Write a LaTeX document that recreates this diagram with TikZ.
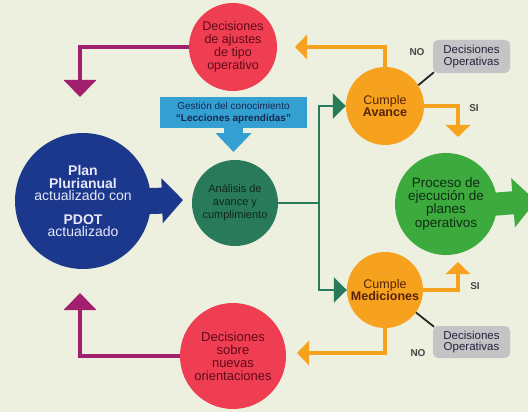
\documentclass[tikz,border=0pt]{standalone}
\usepackage{fontspec}
\setmainfont{Liberation Sans}
\usetikzlibrary{arrows.meta}
\definecolor{bgc}{RGB}{237,240,222}
\definecolor{redfill}{RGB}{239,62,82}
\definecolor{redtxt}{RGB}{95,10,25}
\definecolor{magc}{RGB}{160,32,110}
\definecolor{orgc}{RGB}{247,162,30}
\definecolor{orgtxt}{RGB}{85,35,10}
\definecolor{planblue}{RGB}{28,56,140}
\definecolor{plantext}{RGB}{232,232,250}
\definecolor{lblue}{RGB}{52,160,210}
\definecolor{gesttxt}{RGB}{20,40,80}
\definecolor{dgreen}{RGB}{40,122,90}
\definecolor{anatxt}{RGB}{15,40,30}
\definecolor{pgreen}{RGB}{60,170,60}
\definecolor{proctxt}{RGB}{15,45,20}
\definecolor{grayfill}{RGB}{196,196,198}
\definecolor{graytxt}{RGB}{35,35,60}
\definecolor{lbltxt}{RGB}{70,70,70}
\tikzset{
  circ/.style={circle, inner sep=0pt, align=center},
  redcirc/.style={circ, fill=redfill, text=redtxt, font=\fontsize{12.5}{13}\selectfont},
  orgcirc/.style={circ, fill=orgc, text=orgtxt, font=\fontsize{12.5}{12.5}\selectfont},
  graybox/.style={rectangle, rounded corners=5pt, fill=grayfill, text=graytxt, align=center,
    minimum width=77pt, minimum height=33pt, inner sep=1pt, font=\fontsize{11.5}{11.5}\selectfont},
  lbl/.style={font=\fontsize{10}{10}\selectfont\bfseries, text=lbltxt, inner sep=0pt},
  magarrow/.style={draw=magc, line width=4pt, -{Triangle[width=32pt,length=17pt]}},
  orgarrow/.style={draw=orgc, line width=4pt, -{Triangle[width=24pt,length=12pt]}},
  grnline/.style={draw=dgreen, line width=2.5pt},
  grnarrow/.style={grnline, -{Triangle[width=25pt,length=13pt]}},
  blink/.style={draw=black!85, line width=1.8pt}
}
\begin{document}
\begin{tikzpicture}[x=1pt,y=-1pt]
\useasboundingbox (0,0) rectangle (528,412);
\fill[bgc] (0,0) rectangle (528,412);
\clip (0,0) rectangle (528,412);

% nodes
\node[redcirc, minimum size=88pt] (rtop) at (233,47) {Decisiones\\de ajustes\\de tipo\\operativo};
\node[redcirc, minimum size=106pt, font=\fontsize{13}{13}\selectfont] (rbot) at (233,356) {Decisiones\\sobre\\nuevas\\orientaciones};
\node[circ, fill=planblue, text=plantext, minimum size=136pt, font=\fontsize{14}{12.5}\selectfont] (plan) at (83,201)
  {\textbf{Plan}\\\textbf{Plurianual}\\actualizado con\\[11pt]\textbf{PDOT}\\actualizado};
\node[circ, fill=dgreen, text=anatxt, minimum size=86pt, font=\fontsize{11}{13}\selectfont] (ana) at (235,203)
  {Análisis de\\avance y\\cumplimiento};
\node[orgcirc, minimum size=78pt] (cumA) at (385,106) {Cumple\\\textbf{Avance}};
\node[orgcirc, minimum size=76pt, font=\fontsize{12.5}{11}\selectfont] (cumM) at (385,290) {Cumple\\\textbf{Mediciones}};
\node[circ, fill=pgreen, text=proctxt, minimum size=102pt, font=\fontsize{13.5}{12.5}\selectfont] (proc) at (446,204)
  {Proceso de\\ejecución de\\planes\\operativos};
\node[graybox] (boxA) at (471.5,56.5) {Decisiones\\Operativas};
\node[graybox, minimum height=32pt] (boxM) at (471.5,342) {Decisiones\\Operativas};
\node[rectangle, fill=lblue, text=gesttxt, minimum width=147pt, minimum height=31pt, inner sep=1pt,
  align=center, font=\fontsize{10}{12}\selectfont] (gest) at (233.5,112.5)
  {Gestión del conocimiento\\\textbf{“Lecciones aprendidas”}};
\node[lbl] (noA) at (417,52) {NO};
\node[lbl] (siA) at (474,108) {SI};
\node[lbl] (siM) at (475,286) {SI};
\node[lbl] (noM) at (418,353) {NO};

% thick block arrows
\coordinate (ptip) at (183,200);
\draw[draw=planblue, line width=26pt, shorten <=-5pt, -{Triangle[width=44pt,length=21pt]}] (plan.east) -- (ptip);
\coordinate (prtip) at (536,201);
\draw[draw=pgreen, line width=23pt, shorten <=-5pt, -{Triangle[width=48pt,length=23pt]}] (proc.east) -- (prtip);
\coordinate (gtip) at (233.5,152);
\draw[draw=lblue, line width=19pt, -{Triangle[width=35pt,length=19pt]}] (gest.south) -- (gtip);

% magenta connectors
\coordinate (mt) at (80,97);
\draw[magarrow] (rtop.west) -| (mt);
\coordinate (mb) at (80,293);
\draw[magarrow] (rbot.west) -| (mb);

% green connectors
\coordinate (gj) at (319,203);
\draw[grnline] (ana.east) -- (gj);
\draw[grnarrow] (gj) |- (cumA.west);
\draw[grnarrow] (gj) |- (cumM.west);

% orange connectors
\coordinate (oA1) at (295,47);
\draw[orgarrow] (cumA.north) |- (oA1);
\coordinate (oA2) at (458,137);
\draw[orgarrow] (cumA.east) -| (oA2);
\coordinate (oM1) at (458,262);
\draw[orgarrow] (cumM.east) -| (oM1);
\coordinate (oM2) at (297,353);
\draw[orgarrow] (cumM.south) |- (oM2);

% black links
\draw[blink, shorten >=-1.5pt] (cumA.32) -- (boxA.south west);
\draw[blink, shorten >=-1.5pt] (cumM.-36) -- (boxM.north west);
\end{tikzpicture}
\end{document}
